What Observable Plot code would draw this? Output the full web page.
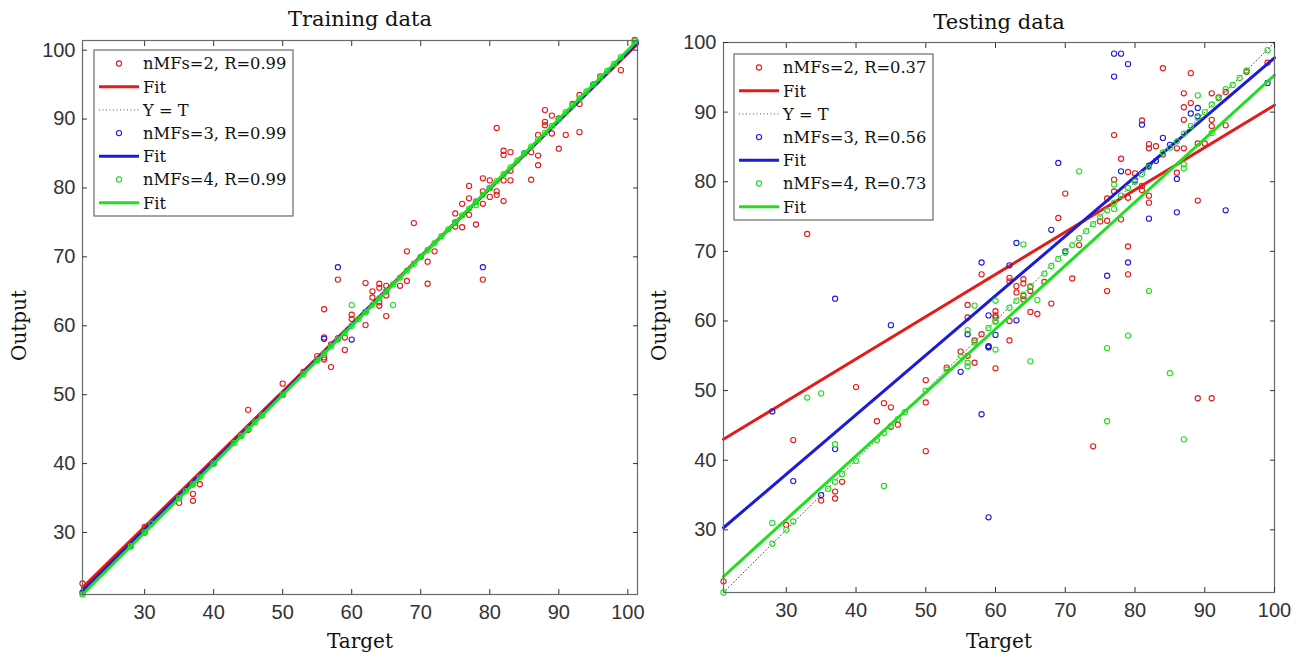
<!DOCTYPE html>
<html><head><meta charset="utf-8">
<script src="https://cdn.jsdelivr.net/npm/d3@7"></script>
<script src="https://cdn.jsdelivr.net/npm/@observablehq/plot@0.6"></script>
<style>
html,body{margin:0;padding:0;background:#fff;}
#wrap{position:relative;width:1309px;height:656px;overflow:hidden;background:#fff;}
#wrap svg{position:absolute;top:0;}
</style></head><body><div id="wrap"></div>
<script>
// ---------- data ----------
const xTicks = [30, 40, 50, 60, 70, 80, 90, 100];
const yTicks = [30, 40, 50, 60, 70, 80, 90, 100];
const seriesColors = ["#e31b1b", "#1c1cd8", "#1fe01f"];

const trainLegend = ["nMFs=2, R=0.99", "Fit", "Y = T", "nMFs=3, R=0.99", "Fit", "nMFs=4, R=0.99", "Fit"];
const testLegend  = ["nMFs=2, R=0.37", "Fit", "Y = T", "nMFs=3, R=0.56", "Fit", "nMFs=4, R=0.73", "Fit"];

// Training data: [target, output]
const train2 = [[21,22.6],[28,28.2],[30,30.8],[31,31.3],[35,34.3],[37,35.6],[37,34.6],[38,37],[40,40.2],[44,44.2],[45,47.8],[45,44.9],[47,47],[50,51.6],[53,53.3],[55,55.6],[56,62.4],[56,58.3],[56,55.4],[56,55.1],[57,54],[57,57.3],[58,58.2],[58,66.7],[59,58.3],[59,56.5],[60,61.6],[60,61],[62,60.1],[62,66.2],[63,65],[63,64.1],[64,66.1],[64,65.5],[64,63.4],[64,62.9],[65,65.8],[65,64.4],[65,61.4],[67,65.8],[68,70.8],[68,66.5],[69,74.9],[71,69.3],[71,66.1],[72,70.8],[75,76.3],[75,74.4],[76,77.7],[76,74.3],[77,80.3],[77,78.5],[77,76.1],[78,74.7],[79,81.4],[79,79.5],[79,77.7],[79,66.7],[80,78.7],[80,81.1],[81,88.7],[81,79.5],[81,79],[82,85.4],[82,84.8],[82,81.1],[82,78.1],[83,85.2],[83,82.5],[83,81.1],[86,85.2],[86,81.2],[87,87.7],[87,84.7],[87,83.3],[88,91.3],[88,89.6],[88,89.1],[89,90.5],[89,87.9],[90,90.1],[90,85.7],[91,87.7],[92,92.2],[93,93.5],[93,92.2],[93,88.1],[95,95],[96,96.2],[99,97.1],[101,101.5]];
const train3 = [[21,21.3],[28,28],[30,30],[35,35],[37,37],[40,40],[45,45],[50,50],[55,55],[56,58.1],[58,68.5],[60,58],[62,62],[65,65],[70,70],[75,75],[78,78],[79,68.5],[80,80],[85,85],[90,90],[95,95],[101,101]];
const train4 = [[21,21],[28,28],[30,30],[31,31.3],[35,35],[36,36],[37,37],[38,38],[40,40],[43,43],[44,44],[45,45],[46,46],[47,47],[50,50],[53,53],[55,55],[56,56],[57,57],[58,58],[59,59],[60,60],[60,63],[61,61],[62,62],[63,63],[64,64],[65,65],[66,63],[66,66],[67,67],[68,68],[69,69],[70,70],[71,71],[72,72],[73,73],[74,74],[75,75],[76,76],[77,77],[78,77.5],[78,78],[79,79],[80,80],[81,81],[82,82],[83,83],[84,84],[85,85],[86,86],[87,87],[88,88],[89,89],[90,90],[91,91],[92,92],[93,93],[94,94],[95,95],[96,96],[97,97],[98,98],[99,99],[101,101.3]];

// Testing data: [target, output]
const test2 = [[21,22.6],[30,30.7],[31,42.9],[33,72.5],[35,34.2],[37,35.5],[37,34.5],[38,36.9],[40,50.5],[43,45.6],[44,48.2],[45,47.6],[45,44.8],[46,45.1],[50,51.5],[50,48.3],[50,41.3],[53,53.3],[55,55.6],[56,60.5],[56,62.3],[56,55],[57,54],[57,57.2],[58,58.1],[58,66.7],[59,56.3],[60,53.2],[60,61.4],[60,60.8],[60,60.5],[62,60],[62,57.2],[62,66.2],[62,65.7],[63,65],[63,64.1],[64,66],[64,65.4],[64,63.6],[64,63.1],[65,64.9],[65,64.3],[65,61.3],[66,61],[67,65.6],[68,62.5],[69,74.8],[70,78.3],[71,66.1],[72,70.9],[74,42],[75,74.3],[76,77.6],[76,74.4],[76,64.3],[77,86.7],[77,80.3],[77,78.6],[78,83.3],[78,74.6],[79,81.4],[79,77.7],[79,70.7],[79,66.7],[80,81.2],[81,88.8],[81,79.4],[81,78.8],[82,85.4],[82,84.8],[82,78],[82,77],[83,85.1],[84,83.9],[84,96.3],[86,84.8],[86,81.3],[87,92.7],[87,90.7],[87,88.9],[87,84.8],[88,95.6],[88,91.3],[89,85.5],[89,77.3],[89,48.9],[90,85.5],[91,92.7],[91,88.9],[91,88],[91,48.9],[92,92.1],[93,92.9],[93,88.1],[96,95.8],[99,97.1]];
const test3 = [[28,47],[31,37],[35,35],[37,41.6],[37,63.2],[45,59.4],[55,52.7],[56,58.1],[58,68.4],[58,46.6],[59,60.8],[59,56.4],[59,56.2],[59,31.8],[60,58],[62,68],[63,71.2],[63,60.1],[68,73.1],[69,82.7],[70,70],[76,66.5],[77,98.4],[77,95.1],[78,98.4],[78,81.5],[79,96.9],[79,68.4],[80,80.2],[81,88.2],[82,74.7],[82,82.3],[83,83],[84,86.3],[85,85.3],[86,80.4],[86,75.6],[88,89.8],[89,90.6],[89,89.4],[93,75.9],[99,94.2]];
const test4 = [[21,21],[28,31],[28,28],[30,30],[31,31.2],[33,49],[35,49.6],[36,35.9],[37,42.3],[37,36.9],[38,38],[40,39.9],[43,42.9],[44,43.9],[44,36.3],[45,44.9],[46,45.9],[47,46.9],[50,50],[53,53],[55,55],[56,58.7],[56,54],[56,53.5],[57,56.9],[57,62.2],[59,59],[60,62.9],[60,60],[60,59.9],[60,55.9],[62,61.9],[63,62.9],[64,63.8],[64,71],[65,65],[65,54.2],[66,63],[67,66.8],[68,67.9],[69,68.9],[70,69.8],[71,70.9],[72,71.9],[72,81.5],[73,72.9],[74,73.9],[75,74.9],[76,75.9],[76,56.1],[76,45.6],[77,79.6],[77,77],[77,76.1],[78,78],[79,79.1],[79,57.9],[80,80],[81,81.1],[82,82.1],[82,64.3],[84,84.2],[85,84.9],[85,52.5],[86,85.8],[87,86.9],[87,82.5],[87,81.9],[87,43],[88,88],[89,89.2],[89,92.4],[90,90],[91,91.1],[91,87],[92,92],[93,93.3],[94,93.9],[95,94.9],[96,96],[99,98.9]];

// Fit line end points (output at the left and right x limits)
const trainFitX  = [21, 101.4];
const trainFitY0 = [22.0, 21.5, 21.0];
const trainFitY1 = [100.9, 101.1, 101.4];
const testFitX   = [21, 100];
const testFitY0  = [43.0, 30.3, 23.3];
const testFitY1  = [91.0, 97.8, 95.3];

// ---------- drawing ----------
const SERIF = "DejaVu Serif";
const SANS = "Liberation Sans";

function panel(cfg) {
  const {left, width, ml, mr, mt, mb, xDomain, yDomain, title, pts, fitX, fitY0, fitY1, legend, lx, ly, titleDy, targetDy, outputDx} = cfg;
  const marks = [];
  const ident = [[xDomain[0], xDomain[0]], [xDomain[1], xDomain[1]]];
  for (let s = 0; s < 3; s++) {
    marks.push(Plot.dot(pts[s], {x: d => d[0], y: d => d[1], r: 2.6, stroke: seriesColors[s], strokeWidth: 1.1, fill: "none"}));
    const fitLine = [[fitX[0], fitY0[s]], [fitX[1], fitY1[s]]];
    marks.push(Plot.line(fitLine, {x: d => d[0], y: d => d[1], stroke: seriesColors[s], strokeWidth: 3}));
    if (s === 0) marks.push(Plot.line(ident, {x: d => d[0], y: d => d[1], stroke: "#555", strokeWidth: 1, strokeDasharray: "1,2.5"}));
  }
  marks.push(Plot.frame({stroke: "#6a6a6a", strokeWidth: 1.2}));
  marks.push(Plot.axisX({anchor: "bottom", ticks: xTicks, tickSize: -5, tickPadding: 15, label: null, fontSize: 20, fontFamily: SANS}));
  marks.push(Plot.axisX({anchor: "top", ticks: xTicks, tickSize: -5, tickFormat: () => "", label: null}));
  marks.push(Plot.axisY({anchor: "left", ticks: yTicks, tickSize: -5, tickPadding: 12, label: null, fontSize: 20, fontFamily: SANS}));
  marks.push(Plot.axisY({anchor: "right", ticks: yTicks, tickSize: -5, tickFormat: () => "", label: null}));
  marks.push(Plot.text([title], {frameAnchor: "top", lineAnchor: "middle", textAnchor: "middle", dy: titleDy, text: d => d, fontSize: 21, fontFamily: SERIF, fill: "#111"}));
  marks.push(Plot.text(["Target"], {frameAnchor: "bottom", lineAnchor: "middle", textAnchor: "middle", dy: targetDy, text: d => d, fontSize: 20, fontFamily: SERIF, fill: "#111"}));
  marks.push(Plot.text(["Output"], {frameAnchor: "left", lineAnchor: "middle", textAnchor: "middle", dx: outputDx, dy: 8, rotate: -90, text: d => d, fontSize: 20, fontFamily: SERIF, fill: "#111"}));

  const svg = Plot.plot({
    width, height: 656,
    marginLeft: ml, marginRight: mr, marginTop: mt, marginBottom: mb,
    x: {domain: xDomain, nice: false},
    y: {domain: yDomain, nice: false},
    style: {fontFamily: SANS, color: "#333", background: "#fff", overflow: "visible"},
    marks
  });
  svg.style.left = left + "px";

  // legend
  const g = d3.select(svg).append("g").attr("font-family", SERIF).attr("font-size", 16.3).attr("text-anchor", "start");
  const bw = 199, bh = 166, rowH = 23.2, row0 = 13.5;
  g.append("rect").attr("x", lx).attr("y", ly).attr("width", bw).attr("height", bh)
    .attr("fill", "#fff").attr("stroke", "#6a6a6a").attr("stroke-width", 1.2);
  const kinds = ["dot", "fit", "ident", "dot", "fit", "dot", "fit"];
  const cols = [0, 0, -1, 1, 1, 2, 2];
  legend.forEach((lab, i) => {
    const cy = ly + row0 + i * rowH;
    if (kinds[i] === "dot") {
      g.append("circle").attr("cx", lx + 25).attr("cy", cy).attr("r", 2.6)
        .attr("fill", "none").attr("stroke", seriesColors[cols[i]]).attr("stroke-width", 1.1);
    } else if (kinds[i] === "fit") {
      g.append("line").attr("x1", lx + 5).attr("x2", lx + 45).attr("y1", cy).attr("y2", cy)
        .attr("stroke", seriesColors[cols[i]]).attr("stroke-width", 3);
    } else {
      g.append("line").attr("x1", lx + 5).attr("x2", lx + 45).attr("y1", cy).attr("y2", cy)
        .attr("stroke", "#555").attr("stroke-width", 1).attr("stroke-dasharray", "1,2.5");
    }
    g.append("text").attr("x", lx + 49).attr("y", cy + 5.8).attr("fill", "#111").attr("text-anchor", "start").text(lab);
  });
  document.getElementById("wrap").appendChild(svg);
}

panel({left: 0, width: 654, ml: 82, mr: 17, mt: 40, mb: 62,
  xDomain: [21, 101.4], yDomain: [21, 101.4], title: "Training data",
  pts: [train2, train3, train4], fitX: trainFitX, fitY0: trainFitY0, fitY1: trainFitY1,
  legend: trainLegend, lx: 94, ly: 50, titleDy: -21.4, targetDy: 47.2, outputDx: -63.4});
panel({left: 654, width: 655, ml: 69, mr: 35, mt: 42, mb: 64,
  xDomain: [21, 100], yDomain: [21, 100], title: "Testing data",
  pts: [test2, test3, test4], fitX: testFitX, fitY0: testFitY0, fitY1: testFitY1,
  legend: testLegend, lx: 80, ly: 54, titleDy: -20.7, targetDy: 49, outputDx: -64.4});
</script></body></html>
